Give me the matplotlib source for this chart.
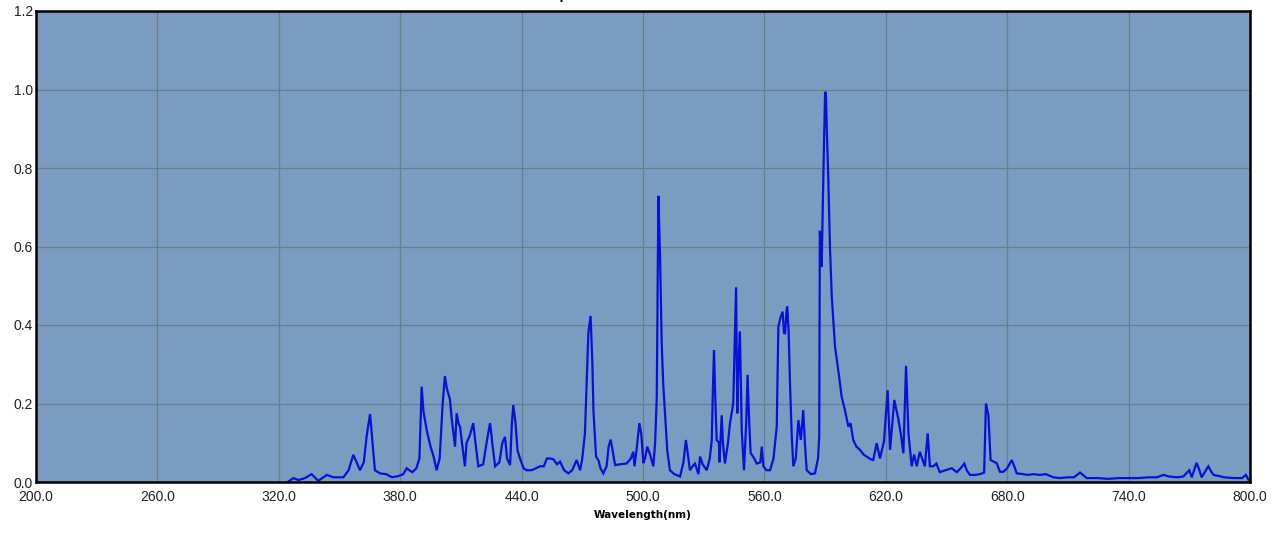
import matplotlib
matplotlib.use("Agg")
import matplotlib.pyplot as plt
from matplotlib import font_manager

# ---- data ----
wavelength = [324.7, 327.2, 329.7, 333.0, 336.2, 339.5, 343.7, 347.0, 351.9, 354.5,
    356.8, 358.5, 360.1, 362.0, 363.5, 365.1, 366.0, 367.5, 370.0, 373.0,
    376.0, 379.0, 381.5, 383.2, 384.5, 386.0, 388.0, 389.5, 390.6, 391.5,
    393.1, 395.0, 396.5, 398.0, 399.5, 401.0, 402.1, 403.0, 404.6, 405.5,
    407.1, 407.9, 408.8, 409.6, 411.0, 412.0, 412.8, 414.5, 416.1, 417.2,
    418.6, 421.0, 423.0, 424.4, 425.5, 426.9, 429.0, 430.5, 431.8, 432.8,
    434.3, 435.2, 435.9, 437.0, 438.0, 439.2, 441.0, 442.5, 445.0, 447.0,
    449.1, 451.0, 452.5, 454.0, 455.7, 457.5, 459.0, 461.0, 463.1, 465.0,
    467.2, 468.9, 470.0, 471.3, 472.5, 473.0, 474.1, 475.0, 475.5, 476.8,
    478.0, 479.0, 480.4, 482.0, 483.0, 484.0, 485.0, 486.2, 488.5, 491.9,
    494.0, 495.2, 495.8, 497.0, 498.2, 499.2, 500.2, 501.0, 502.1, 503.5,
    505.1, 506.0, 506.8, 507.6, 508.4, 509.2, 510.0, 510.9, 512.0, 513.3,
    515.5, 518.3, 520.0, 521.2, 522.2, 523.2, 524.5, 525.7, 527.4, 528.2,
    529.5, 531.5, 533.0, 534.0, 534.6, 535.1, 535.8, 536.4, 537.5, 537.8,
    538.9, 539.5, 540.5, 542.0, 543.0, 544.6, 545.3, 546.0, 546.6, 547.2,
    547.9, 548.8, 549.9, 551.0, 551.7, 552.5, 553.2, 555.0, 556.2, 558.0,
    558.7, 559.5, 561.0, 562.8, 564.5, 566.1, 566.9, 568.0, 569.0, 569.7,
    570.2, 571.0, 571.3, 572.0, 572.6, 573.5, 574.3, 575.5, 576.8, 578.0,
    579.2, 580.0, 580.9, 583.0, 585.0, 586.5, 587.1, 587.4, 588.0, 588.3,
    589.1, 590.0, 590.4, 590.8, 591.6, 592.4, 593.3, 594.9, 596.5, 598.2,
    599.8, 601.5, 602.6, 603.9, 605.5, 607.2, 609.0, 610.5, 612.5, 613.8,
    615.5, 617.1, 619.1, 620.9, 622.1, 624.2, 626.2, 627.5, 628.7, 630.0,
    631.2, 632.8, 634.0, 635.3, 636.8, 639.3, 640.7, 641.8, 643.5, 645.0,
    646.7, 649.5, 652.6, 655.1, 657.0, 658.8, 660.0, 661.6, 664.0, 666.6,
    668.6, 669.5, 670.7, 671.8, 674.8, 676.4, 678.1, 680.0, 682.2, 683.5,
    684.7, 688.0, 690.0, 693.0, 696.0, 699.0, 702.8, 706.0, 710.0, 713.0,
    716.0, 719.3, 725.0, 730.0, 735.0, 740.0, 745.0, 750.0, 754.0, 757.2,
    760.0, 764.0, 767.0, 770.0, 771.2, 773.6, 775.0, 776.1, 779.4, 781.0,
    782.0, 785.0, 787.0, 792.0, 796.0, 798.0, 799.2]

intensity = [0.001, 0.010, 0.005, 0.010, 0.020, 0.003, 0.018, 0.012, 0.012, 0.030,
    0.069, 0.050, 0.030, 0.050, 0.120, 0.173, 0.120, 0.030, 0.022, 0.020,
    0.012, 0.015, 0.020, 0.035, 0.030, 0.025, 0.035, 0.060, 0.243, 0.180,
    0.132, 0.090, 0.065, 0.030, 0.060, 0.200, 0.270, 0.240, 0.210, 0.160,
    0.090, 0.175, 0.150, 0.140, 0.080, 0.040, 0.100, 0.120, 0.150, 0.100,
    0.040, 0.045, 0.110, 0.150, 0.100, 0.040, 0.050, 0.100, 0.115, 0.060,
    0.043, 0.150, 0.196, 0.150, 0.080, 0.060, 0.035, 0.030, 0.030, 0.035,
    0.040, 0.040, 0.060, 0.060, 0.058, 0.045, 0.052, 0.030, 0.022, 0.030,
    0.056, 0.030, 0.060, 0.124, 0.300, 0.380, 0.423, 0.300, 0.183, 0.065,
    0.055, 0.035, 0.022, 0.040, 0.090, 0.108, 0.080, 0.043, 0.045, 0.047,
    0.060, 0.077, 0.040, 0.090, 0.150, 0.120, 0.048, 0.060, 0.090, 0.070,
    0.040, 0.100, 0.217, 0.729, 0.583, 0.360, 0.250, 0.175, 0.080, 0.030,
    0.020, 0.014, 0.050, 0.107, 0.070, 0.030, 0.040, 0.047, 0.020, 0.065,
    0.045, 0.030, 0.060, 0.107, 0.250, 0.336, 0.200, 0.107, 0.100, 0.050,
    0.170, 0.100, 0.047, 0.100, 0.150, 0.200, 0.354, 0.496, 0.175, 0.300,
    0.383, 0.132, 0.030, 0.150, 0.273, 0.150, 0.074, 0.060, 0.047, 0.050,
    0.090, 0.040, 0.030, 0.030, 0.060, 0.141, 0.396, 0.420, 0.434, 0.380,
    0.379, 0.440, 0.447, 0.380, 0.260, 0.120, 0.040, 0.060, 0.158, 0.107,
    0.183, 0.100, 0.030, 0.020, 0.022, 0.060, 0.115, 0.640, 0.600, 0.548,
    0.770, 0.994, 0.990, 0.905, 0.770, 0.600, 0.472, 0.345, 0.285, 0.217,
    0.183, 0.141, 0.150, 0.107, 0.090, 0.082, 0.070, 0.065, 0.058, 0.056,
    0.099, 0.060, 0.103, 0.234, 0.082, 0.209, 0.160, 0.120, 0.073, 0.296,
    0.124, 0.040, 0.070, 0.040, 0.077, 0.040, 0.124, 0.040, 0.040, 0.047,
    0.025, 0.030, 0.035, 0.025, 0.035, 0.047, 0.030, 0.018, 0.018, 0.020,
    0.024, 0.200, 0.170, 0.056, 0.048, 0.026, 0.026, 0.035, 0.056, 0.040,
    0.022, 0.020, 0.018, 0.020, 0.018, 0.020, 0.012, 0.010, 0.012, 0.012,
    0.024, 0.010, 0.010, 0.008, 0.010, 0.010, 0.010, 0.012, 0.012, 0.018,
    0.014, 0.012, 0.014, 0.030, 0.012, 0.049, 0.030, 0.012, 0.040, 0.025,
    0.018, 0.015, 0.012, 0.010, 0.010, 0.018, 0.006]

x_ticks = [200.0, 260.0, 320.0, 380.0, 440.0, 500.0, 560.0, 620.0, 680.0, 740.0, 800.0]
y_ticks = [0.0, 0.2, 0.4, 0.6, 0.8, 1.0, 1.2]
x_label = "Wavelength(nm)"
title = "Spectral Power Distribution"

# ---- fonts ----
avail = {f.name for f in font_manager.fontManager.ttflist}
tick_font = "Liberation Sans Narrow" if "Liberation Sans Narrow" in avail else "Liberation Sans"

W, H = 1282, 535
fig = plt.figure(figsize=(W / 100, H / 100), dpi=100)
fig.patch.set_facecolor("white")
ax = fig.add_axes([36 / W, 1 - 482 / H, (1250 - 36) / W, (482 - 11) / H])
ax.set_facecolor("#7b9bc0")

ax.plot(wavelength, intensity, color="#0a10d8", lw=1.6, solid_joinstyle="miter")

ax.set_xlim(200, 800)
ax.set_ylim(0, 1.2)
ax.set_xticks(x_ticks)
ax.set_yticks(y_ticks)
ax.set_xticklabels([f"{v:.1f}" for v in x_ticks], fontfamily=tick_font, fontsize=10, color="#222222")
ax.set_yticklabels([f"{v:.1f}" for v in y_ticks], fontfamily=tick_font, fontsize=10, color="#222222")
ax.tick_params(axis="both", length=0)
ax.tick_params(axis="x", pad=6)
ax.tick_params(axis="y", pad=2)
ax.grid(True, color="#6e7c8a", lw=0.9)
ax.set_axisbelow(True)
for s in ax.spines.values():
    s.set_color("black")
    s.set_linewidth(1.8)

ax.set_xlabel(x_label, fontfamily="DejaVu Sans", fontweight="bold", fontsize=7.5, labelpad=4)

fig.text(643 / W, 1 + 0.5 / H, title, ha="center", va="baseline",
         fontfamily="DejaVu Sans", fontweight="bold", fontsize=8.5)

fig.savefig("out.png", dpi=100, facecolor="white")
